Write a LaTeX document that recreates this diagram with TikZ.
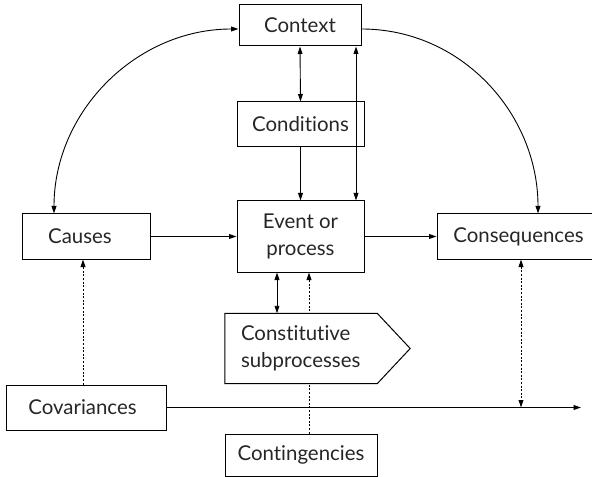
\documentclass[tikz,border=0pt]{standalone}
\usepackage{fontspec}
\setmainfont{Lato}[Ligatures=NoCommon]
\usetikzlibrary{arrows.meta,calc}
\begin{document}
\begin{tikzpicture}[x=1bp,y=-1bp,
  lbl/.style={font=\fontsize{20.5}{27}\selectfont, text=black!85},
  box/.style={draw, line width=1bp, fill=white, inner sep=0pt, align=center, lbl},
  tip/.tip={Triangle[length=7.5bp,width=4.8bp]},
  link/.style={line width=0.9bp, -tip},
  link2/.style={line width=0.9bp, tip-tip},
  dots/.style={dash pattern=on 2bp off 1.6bp}
]
\path[use as bounding box, clip] (0,0) rectangle (592,477);

% boxes
\node[box, minimum width=122bp, minimum height=41bp] (ctx)   at (300,25.5)  {Context};
\node[box, minimum width=127bp, minimum height=45bp] (cond)  at (300.5,124.5) {Conditions};
\node[box, minimum width=127bp, minimum height=71bp] (ev)    at (300.5,236.5) {Event or\\process};
\node[box, minimum width=127bp, minimum height=45bp] (cause) at (86.5,236.5) {Causes\hspace*{13bp}};
\node[box, minimum width=163bp, minimum height=45bp] (cons)  at (518.5,236.5) {Consequences};
\node[box, minimum width=159bp, minimum height=45bp] (cov)   at (86.5,407.5) {Covariances\hspace*{8bp}};
\node[box, minimum width=152bp, minimum height=42bp] (cont)  at (301,455)   {Contingencies};

% column positions of the vertical links
\coordinate (xlong) at (356,0);
\coordinate (xsub)  at (277,0);
\coordinate (xcont) at (309,0);
\coordinate (xcov)  at (83,0);
\coordinate (xcons) at (521,0);
\coordinate (tend)  at (581,407.5);

% contingencies act on the event (passes behind the subprocess arrow)
\draw[link, dots] (cont.north -| xcont) -- (ev.south -| xcont);

% pentagon arrow for the constitutive subprocesses
\node[minimum width=185bp, minimum height=70bp, inner sep=0pt] (sub) at (317.5,348.5) {};
\draw[line width=1bp, fill=white] (sub.north west) -- ($(sub.north east)+(-33,0)$) -- (sub.east)
  -- ($(sub.south east)+(-33,0)$) -- (sub.south west) -- cycle;
\node[lbl, align=left, anchor=west, inner sep=0pt] at ($(sub.west)+(16,0)$) {Constitutive\\subprocesses};

% links among the central boxes
\draw[link2] (ctx.south) -- (cond.north);
\draw[link] (cond.south) -- (ev.north);
\draw[link2] (ctx.south -| xlong) -- (ev.north -| xlong);
\draw[link] (cause.east) -- (ev.west);
\draw[link] (ev.east) -- (cons.west);
\draw[link2] (ev.south -| xsub) -- (sub.north -| xsub);

% arcs from the context
\draw[link2] (cause.north -| 54,0) to[out=90,in=180] (ctx.west |- 0,29);
\draw[link] (ctx.east |- 0,29) to[out=0,in=90] (cons.north -| 538,0);

% time line and covariances
\draw[link] (cov.east) -- (tend);
\draw[link, dots] (cov.north -| xcov) -- (cause.south -| xcov);
\draw[link2, dots] (cons.south -| xcons) -- (tend -| xcons);
\end{tikzpicture}
\end{document}
